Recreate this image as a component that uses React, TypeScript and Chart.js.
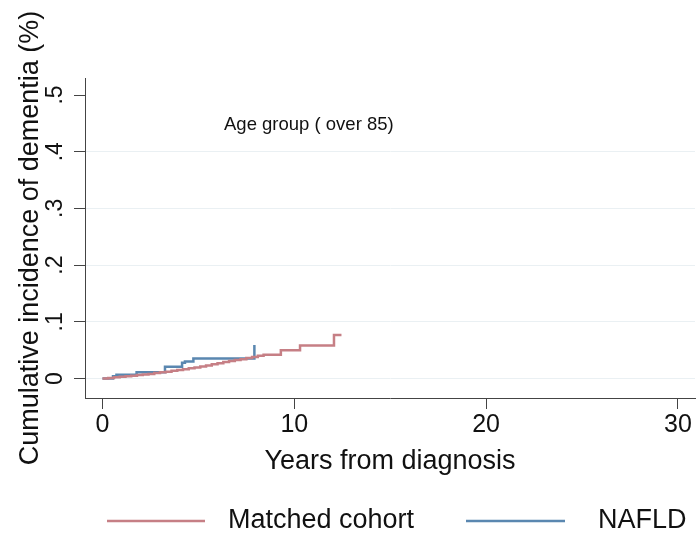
import React, { useEffect, useRef } from "react";
import { Chart, registerables } from "chart.js";

Chart.register(...registerables);

// Kaplan-Meier style cumulative incidence (step functions)
const matchedYears = [
  0, 0.3, 0.6, 0.9, 1.2, 1.5, 1.8, 2.1, 2.4, 2.7, 3.0, 3.3, 3.6, 3.9, 4.2, 4.5, 4.8,
  5.1, 5.4, 5.7, 6.0, 6.3, 6.6, 6.9, 7.2, 7.5, 7.8, 8.1, 8.4, 9.3, 10.3, 12.07, 12.46,
];
const matchedValues = [
  0, 0.0008, 0.002, 0.003, 0.004, 0.005, 0.006, 0.007, 0.008, 0.0095, 0.011, 0.012, 0.0135, 0.015, 0.0165, 0.018, 0.0195,
  0.021, 0.023, 0.025, 0.027, 0.029, 0.031, 0.0325, 0.034, 0.036, 0.038, 0.040, 0.042, 0.050, 0.058, 0.0765, 0.0765,
];

const naflYears = [0, 0.55, 0.73, 1.78, 3.26, 4.15, 4.3, 4.74, 7.92];
const naflValues = [0, 0.004, 0.0065, 0.011, 0.0205, 0.0276, 0.030, 0.0353, 0.0589];

const xTicks = [0, 10, 20, 30];
const yTicks = [0, 0.1, 0.2, 0.3, 0.4, 0.5];

const seriesNames = ["Matched cohort", "NAFLD"];
const seriesColors = ["#c67f85", "#5a87b0"];
const yTitle = "Cumulative incidence of dementia (%)";
const xTitle = "Years from diagnosis";
const annotation = "Age group ( over 85)";

const FONT = "'Liberation Sans', Arial, Helvetica, sans-serif";

const textPlugin = {
  id: "customTexts",
  afterDraw(chart: any) {
    const ctx = chart.ctx;
    const ca = chart.chartArea;
    ctx.save();
    ctx.fillStyle = "#111";
    // y title
    ctx.save();
    ctx.translate(38, (ca.top + ca.bottom) / 2);
    ctx.rotate(-Math.PI / 2);
    ctx.font = `27px ${FONT}`;
    ctx.textAlign = "center";
    ctx.textBaseline = "alphabetic";
    ctx.fillText(yTitle, 0, 0);
    ctx.restore();
    // x title
    ctx.font = `27px ${FONT}`;
    ctx.textAlign = "center";
    ctx.textBaseline = "middle";
    ctx.fillText(xTitle, (ca.left + ca.right) / 2, 462);
    // annotation
    ctx.font = `18.5px ${FONT}`;
    ctx.textAlign = "left";
    ctx.fillText(annotation, 224, 125);
    // legend
    const legendY = 521;
    const items = [
      { x0: 107, x1: 205, tx: 228 },
      { x0: 466, x1: 565, tx: 598 },
    ];
    items.forEach((it, i) => {
      ctx.strokeStyle = seriesColors[i];
      ctx.lineWidth = 2.5;
      ctx.beginPath();
      ctx.moveTo(it.x0, legendY);
      ctx.lineTo(it.x1, legendY);
      ctx.stroke();
      ctx.fillStyle = "#111";
      ctx.font = `27px ${FONT}`;
      ctx.textAlign = "left";
      ctx.textBaseline = "middle";
      ctx.fillText(seriesNames[i], it.tx, legendY);
    });
    ctx.restore();
  },
};

export default function App() {
  const ref = useRef<HTMLCanvasElement | null>(null);
  useEffect(() => {
    document.body.style.margin = "0";
    if (!ref.current) return;
    const chart = new Chart(ref.current, {
      type: "line",
      data: {
        datasets: [
          {
            label: seriesNames[0],
            data: matchedYears.map((x, i) => ({ x, y: matchedValues[i] })),
            borderColor: seriesColors[0],
            borderWidth: 2.5,
            pointRadius: 0,
            stepped: true,
            fill: false,
          },
          {
            label: seriesNames[1],
            data: naflYears.map((x, i) => ({ x, y: naflValues[i] })),
            borderColor: seriesColors[1],
            borderWidth: 2.5,
            pointRadius: 0,
            stepped: true,
            fill: false,
          },
        ],
      },
      options: {
        animation: false,
        responsive: false,
        devicePixelRatio: 1,
        layout: { padding: { left: 0, right: 3, top: 78, bottom: 0 } },
        plugins: { legend: { display: false }, tooltip: { enabled: false } },
        scales: {
          x: {
            type: "linear",
            min: -0.91,
            max: 30.89,
            afterBuildTicks: (scale: any) => {
              scale.ticks = xTicks.map((v) => ({ value: v }));
            },
            afterFit: (scale: any) => {
              scale.height = 140;
            },
            ticks: {
              color: "#111",
              font: { family: FONT, size: 25 },
              padding: 1,
              maxRotation: 0,
              callback: (v: any) => String(v),
            },
            grid: {
              drawOnChartArea: false,
              tickLength: 11,
              tickColor: "#444",
              lineWidth: 1,
            },
            border: { display: true, color: "#444", width: 1 },
          },
          y: {
            type: "linear",
            min: -0.0344,
            max: 0.53,
            afterBuildTicks: (scale: any) => {
              scale.ticks = yTicks.map((v) => ({ value: v }));
            },
            afterFit: (scale: any) => {
              scale.width = 85;
            },
            ticks: {
              color: "#111",
              font: { family: FONT, size: 23 },
              padding: 9,
              minRotation: 90,
              maxRotation: 90,
              crossAlign: "center",
              callback: (v: any) => {
                const n = Number(v);
                if (Math.abs(n) < 1e-9) return "0";
                return n.toFixed(1).replace(/^0\./, ".");
              },
            },
            grid: {
              tickLength: 11,
              tickColor: "#444",
              lineWidth: 1,
              color: (c: any) =>
                c.tick && Math.abs(c.tick.value - 0.5) < 1e-9 ? "rgba(0,0,0,0)" : "#eaf0f3",
            },
            border: { display: true, color: "#444", width: 1 },
          },
        },
      },
      plugins: [textPlugin],
    } as any);
    return () => chart.destroy();
  }, []);
  return (
    <div style={{ width: 698, height: 538, background: "#fff" }}>
      <canvas ref={ref} width={698} height={538} style={{ display: "block" }} />
    </div>
  );
}
